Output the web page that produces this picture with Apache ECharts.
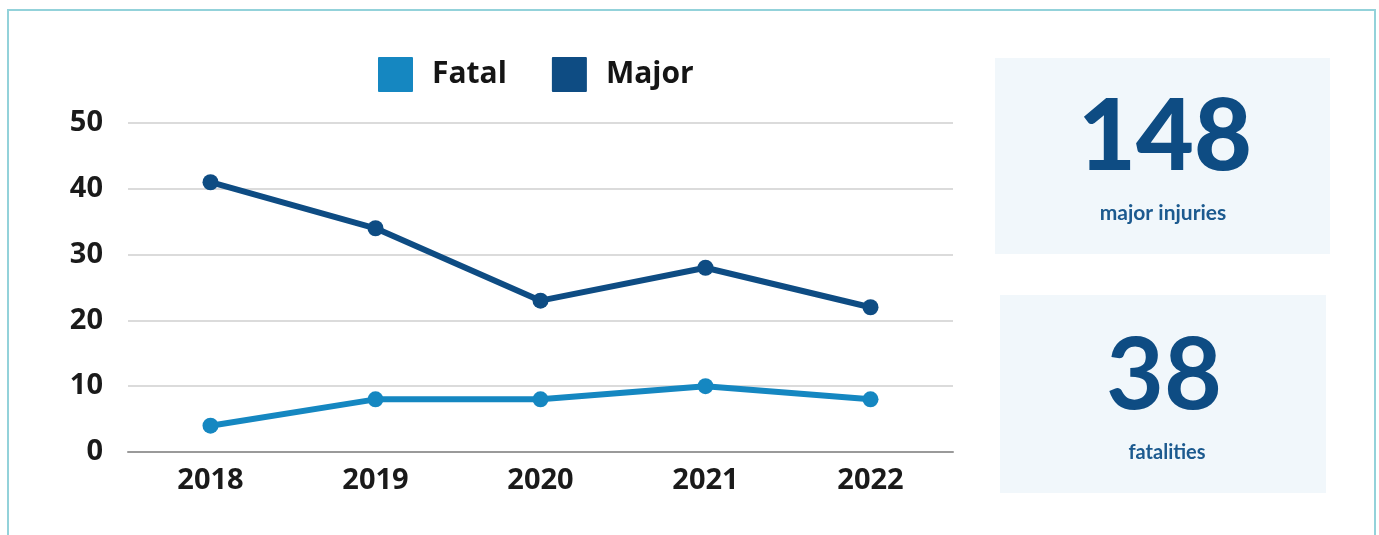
<!DOCTYPE html>
<html><head><meta charset="utf-8">
<script src="https://cdn.jsdelivr.net/npm/echarts@6/dist/echarts.min.js"></script>
<style>html,body{margin:0;padding:0;background:#fff}#c{width:1379px;height:535px}</style>
</head><body><div id="c"></div>
<script>
const categories = ['2018','2019','2020','2021','2022'];
const fatal = [4, 8, 8, 10, 8];
const major = [41, 34, 23, 28, 22];
const yTicks = [0, 10, 20, 30, 40, 50];
const statMajor = '148';
const statMajorLabel = 'major injuries';
const statFatal = '38';
const statFatalLabel = 'fatalities';

const FONT = 'Lato, "Open Sans", sans-serif';
const AXFONT = '"Open Sans", "Noto Sans", sans-serif';
const chart = echarts.init(document.getElementById('c'));
chart.setOption({
  backgroundColor: '#fff',
  animation: false,
  legend: {
    left: 373, top: 52,
    itemWidth: 35, itemHeight: 35, itemGap: 45,
    icon: 'path://M1,0 L34,0 Q35,0 35,1 L35,34 Q35,35 34,35 L1,35 Q0,35 0,34 L0,1 Q0,0 1,0 Z',
    textStyle: { fontFamily: AXFONT, fontSize: 30, fontWeight: 'bold', color: '#151515', padding: [0,0,0,14] },
    data: ['Fatal', 'Major']
  },
  grid: { left: 128, right: 426, top: 123, bottom: 83 },
  xAxis: {
    type: 'category', data: categories, boundaryGap: true,
    axisLine: { lineStyle: { color: '#9a9a9a', width: 2 } },
    axisTick: { show: false },
    axisLabel: { margin: 14, fontFamily: AXFONT, fontWeight: 'bold', fontSize: 29, color: '#1a1a1a' }
  },
  yAxis: {
    type: 'value', min: yTicks[0], max: yTicks[yTicks.length-1], interval: 10,
    axisLine: { show: false }, axisTick: { show: false },
    splitLine: { lineStyle: { color: '#cfcfcf', width: 1.5 } },
    axisLabel: { margin: 25, fontFamily: AXFONT, fontWeight: 'bold', fontSize: 29, color: '#1a1a1a' }
  },
  series: [
    { name: 'Fatal', type: 'line', data: fatal, color: '#1587c1',
      symbol: 'circle', symbolSize: 16, lineStyle: { width: 6 } },
    { name: 'Major', type: 'line', data: major, color: '#0e4c83',
      symbol: 'circle', symbolSize: 16, lineStyle: { width: 6 } }
  ],
  graphic: [
    { type: 'rect', shape: { x: 8, y: 10, width: 1367, height: 540 }, style: { fill: 'none', stroke: '#93d2da', lineWidth: 2 }, z: -1 },
    { type: 'rect', shape: { x: 995, y: 58, width: 335, height: 196 }, style: { fill: '#f1f7fb' }, z: -1 },
    { type: 'rect', shape: { x: 1000, y: 295, width: 326, height: 198 }, style: { fill: '#f1f7fb' }, z: -1 },
    { type: 'text', x: 1165, y: 138, style: { text: statMajor, fill: '#0e4c83', font: '900 100px ' + FONT, align: 'center', verticalAlign: 'middle' } },
    { type: 'text', x: 1163, y: 213, style: { text: statMajorLabel, fill: '#1c5a8f', font: 'bold 21px ' + FONT, align: 'center', verticalAlign: 'middle' } },
    { type: 'text', x: 1164, y: 377, style: { text: statFatal, fill: '#0e4c83', font: 'bold 100px ' + FONT, align: 'center', verticalAlign: 'middle' } },
    { type: 'text', x: 1167, y: 453, style: { text: statFatalLabel, fill: '#1c5a8f', font: 'bold 20px ' + FONT, align: 'center', verticalAlign: 'middle' } }
  ]
});
</script></body></html>
